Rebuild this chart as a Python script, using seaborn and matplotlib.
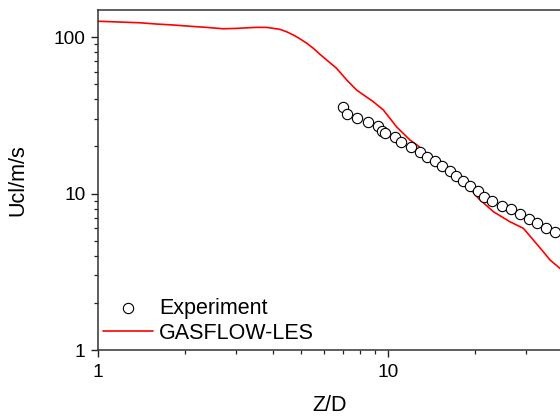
import numpy as np
import pandas as pd
import matplotlib
matplotlib.use("Agg")
import matplotlib.pyplot as plt
import matplotlib.ticker as mticker
import seaborn as sns

# Experimental data (Z/D, Ucl in m/s)
exp_zd = [6.98, 7.24, 7.84, 8.51, 9.26, 9.51, 9.79, 10.55, 11.11, 12.03, 12.9, 13.6,
          14.5, 15.4, 16.3, 17.2, 18.2, 19.2, 20.4, 21.5, 22.9, 24.7, 26.6, 28.5,
          30.6, 32.6, 35.1, 37.7]
exp_u = [35.5, 32.2, 30.5, 28.6, 27.0, 25.2, 24.5, 22.9, 21.2, 19.9, 18.5, 17.2,
         16.1, 15.0, 14.0, 12.9, 12.0, 11.2, 10.4, 9.54, 8.92, 8.36, 7.93, 7.39,
         6.90, 6.45, 6.04, 5.68]

# GASFLOW-LES simulation
les_zd = [0.963, 1.396, 1.594, 1.818, 2.19, 2.37, 2.70, 3.01, 3.26, 3.53, 3.82, 4.24,
          4.47, 4.72, 4.97, 5.25, 5.53, 5.83, 6.65, 7.21, 7.80, 8.90, 9.64, 10.7,
          11.9, 12.6, 14.5, 16.3, 18.2, 20.5, 23.1, 26.3, 29.3, 31.7, 34.3, 36.2,
          39.2, 40.5]
les_u = [126.5, 123.4, 121.1, 119.4, 116.4, 115.3, 113.0, 113.6, 114.6, 115.3, 115.3, 112.0,
         108.1, 103.0, 97.5, 91.2, 84.7, 77.5, 63.1, 53.1, 45.8, 38.6, 34.2, 26.7,
         22.0, 20.4, 16.4, 14.0, 12.1, 9.31, 7.65, 6.61, 5.99, 5.05, 4.25, 3.76,
         3.32, 3.15]

x_ticks = [1, 10]
y_ticks = [1, 10, 100]

df_exp = pd.DataFrame({"Z/D": exp_zd, "U": exp_u})
df_les = pd.DataFrame({"Z/D": les_zd, "U": les_u})

sns.set_style("ticks")
plt.rcParams["font.family"] = ["Liberation Sans", "DejaVu Sans"]
plt.rcParams["text.color"] = "black"
plt.rcParams["axes.labelcolor"] = "black"
plt.rcParams["xtick.labelcolor"] = "black"
plt.rcParams["ytick.labelcolor"] = "black"

fig = plt.figure(figsize=(5.6, 4.16), dpi=100)
ax = fig.add_axes([0.175, 0.15865, 580 / 560, 0.8185])

sns.lineplot(data=df_les, x="Z/D", y="U", ax=ax, color="#FF0000", lw=1.2,
             sort=False, estimator=None, label="GASFLOW-LES", zorder=2)
sns.scatterplot(data=df_exp, x="Z/D", y="U", ax=ax, marker="o", s=55,
                facecolor="white", edgecolor="black", linewidth=0.8,
                label="Experiment", zorder=3)

ax.set_xscale("log")
ax.set_yscale("log")
ax.set_xlim(1, 100)
ax.set_ylim(1, 150)

fmt = mticker.FuncFormatter(lambda v, p: f"{v:g}")
ax.xaxis.set_major_locator(mticker.FixedLocator(x_ticks))
ax.yaxis.set_major_locator(mticker.FixedLocator(y_ticks))
ax.xaxis.set_major_formatter(fmt)
ax.yaxis.set_major_formatter(fmt)
ax.xaxis.set_minor_formatter(mticker.NullFormatter())
ax.yaxis.set_minor_formatter(mticker.NullFormatter())
ax.xaxis.set_minor_locator(mticker.LogLocator(base=10, subs=np.arange(2, 10)))
ax.yaxis.set_minor_locator(mticker.LogLocator(base=10, subs=np.arange(2, 10)))

ax.tick_params(which="major", direction="out", length=5, width=1.0, labelsize=13.8,
               color="#222222", top=False, right=False)
ax.tick_params(which="minor", direction="out", length=3, width=0.9,
               color="#222222", top=False, right=False)
ax.tick_params(axis="y", which="major", pad=4)
ax.tick_params(axis="x", which="major", pad=5)

for s in ax.spines.values():
    s.set_linewidth(1.1)
    s.set_color("#333333")
    s.set_visible(True)

ax.set_xlabel("Z/D", fontsize=15.5)
ax.set_ylabel("Ucl/m/s", fontsize=15.5)
ax.xaxis.set_label_coords((330 - 98) / 580, -(405 - 350) / 340.5)
ax.xaxis.label.set_verticalalignment("center")
ax.yaxis.set_label_coords(-(98 - 18) / 580, 0.5)
ax.yaxis.label.set_verticalalignment("center")

handles, labels = ax.get_legend_handles_labels()
order = [labels.index("Experiment"), labels.index("GASFLOW-LES")]
ax.legend([handles[i] for i in order], [labels[i] for i in order],
          loc="lower left", bbox_to_anchor=(5 / 580, 6 / 340.5), frameon=False,
          fontsize=15.5, borderpad=0, borderaxespad=0, handlelength=2.3,
          handletextpad=0.3, labelspacing=0.2, markerscale=1.0)

fig.savefig("out.png", dpi=100)
